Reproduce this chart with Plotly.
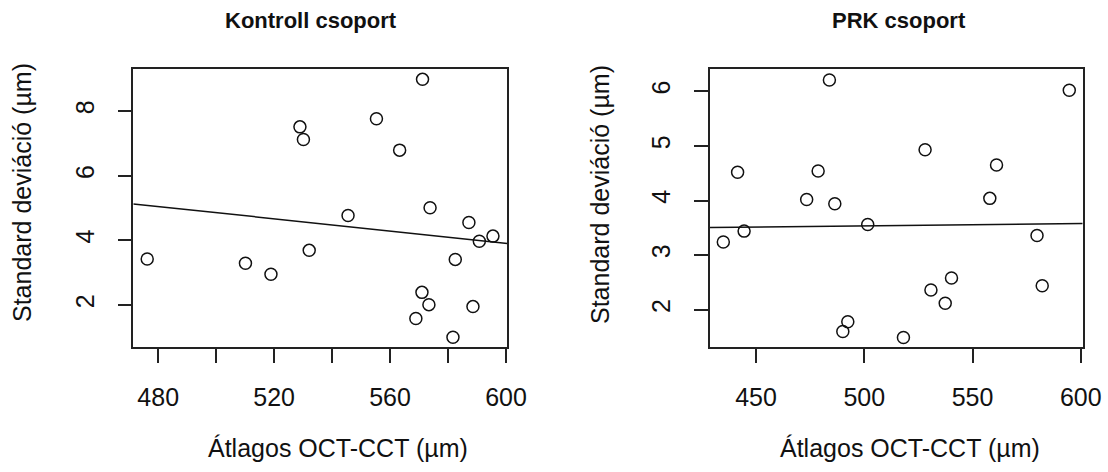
import numpy as np
import plotly.graph_objects as go

# Kontroll csoport
ctrl_x = [476.2, 510.1, 518.9, 528.9, 530.1, 532.1, 545.5, 555.3, 563.3, 571.2,
          573.8, 571.0, 573.4, 568.9, 581.7, 582.5, 587.2, 588.6, 590.8, 595.5]
ctrl_y = [3.42, 3.29, 2.95, 7.51, 7.12, 3.69, 4.77, 7.76, 6.79, 8.98,
          5.01, 2.39, 2.01, 1.58, 1.00, 3.41, 4.55, 1.95, 3.97, 4.13]

# PRK csoport
prk_x = [434.9, 441.5, 444.5, 473.4, 478.7, 483.9, 486.4, 490.1, 492.4, 501.6,
         518.1, 528.1, 530.8, 537.4, 540.3, 558.0, 561.1, 579.8, 582.2, 594.7]
prk_y = [3.24, 4.52, 3.44, 4.02, 4.54, 6.21, 3.94, 1.60, 1.78, 3.56,
         1.49, 4.93, 2.36, 2.12, 2.58, 4.04, 4.65, 3.36, 2.44, 6.02]

titles = ["Kontroll csoport", "PRK csoport"]
x_title = "Átlagos OCT-CCT (µm)"
y_title = "Standard deviáció (µm)"

ctrl_xticks = [480, 500, 520, 540, 560, 580, 600]
ctrl_xlabels = ["480", "", "520", "", "560", "", "600"]
ctrl_yticks = [2, 4, 6, 8]
prk_xticks = [450, 500, 550, 600]
prk_yticks = [2, 3, 4, 5, 6]

W, H = 1108, 472
FONT = "Liberation Sans, Arial, sans-serif"
INK = "#111111"

fig = go.Figure()

def add_panel(xs, ys, xaxis, yaxis, xr):
    fig.add_trace(go.Scatter(
        x=xs, y=ys, mode="markers", xaxis=xaxis, yaxis=yaxis,
        marker=dict(symbol="circle-open", size=12, color=INK, line=dict(width=1.5, color=INK)),
        showlegend=False, hoverinfo="x+y"))
    slope, inter = np.polyfit(xs, ys, 1)
    fig.add_trace(go.Scatter(
        x=[xr[0], xr[1]], y=[inter + slope * xr[0], inter + slope * xr[1]],
        mode="lines", xaxis=xaxis, yaxis=yaxis,
        line=dict(color=INK, width=1.5), showlegend=False, hoverinfo="skip"))

ctrl_xr = [471.4, 600.45]
prk_xr = [428.75, 600.9]
add_panel(ctrl_x, ctrl_y, "x", "y", ctrl_xr)
add_panel(prk_x, prk_y, "x2", "y2", prk_xr)

ydom = [(H - 347) / H, (H - 69) / H]
axis_common = dict(showgrid=False, zeroline=False, showline=True, mirror=True,
                   automargin=False,
                   linecolor="#222222", linewidth=1.5, ticks="outside", ticklen=14,
                   tickwidth=1.5, tickcolor="#222222",
                   tickfont=dict(family=FONT, size=25, color=INK))

fig.update_layout(
    template="none",
    width=W, height=H, autosize=False,
    margin=dict(l=0, r=0, t=0, b=0, pad=0),
    paper_bgcolor="white", plot_bgcolor="white",
    xaxis=dict(domain=[133.3 / W, 507.3 / W], range=ctrl_xr, tickvals=ctrl_xticks,
               ticktext=ctrl_xlabels, anchor="y", ticklabelstandoff=13, **axis_common),
    yaxis=dict(domain=ydom, range=[0.70, 9.30], tickvals=ctrl_yticks,
               tickangle=-90, anchor="x", ticklabelstandoff=14, **axis_common),
    xaxis2=dict(domain=[710 / W, 1082.7 / W], range=prk_xr, tickvals=prk_xticks,
                anchor="y2", ticklabelstandoff=13, **axis_common),
    yaxis2=dict(domain=ydom, range=[1.317, 6.41], tickvals=prk_yticks,
                tickangle=-90, anchor="x2", ticklabelstandoff=14, **axis_common),
)

ann = []
for txt, cx in zip(titles, [310.5, 898.7]):
    ann.append(dict(text="<b>" + txt + "</b>", x=cx / W, y=1 - 20 / H, xref="paper", yref="paper",
                    showarrow=False, xanchor="center", yanchor="middle",
                    font=dict(family=FONT, size=22, color=INK)))
for cx in [338, 910]:
    ann.append(dict(text=x_title, x=cx / W, y=1 - 448 / H, xref="paper", yref="paper",
                    showarrow=False, xanchor="center", yanchor="middle",
                    font=dict(family=FONT, size=25, color=INK)))
for cx, cy in [(22, 193), (600, 195)]:
    ann.append(dict(text=y_title, x=cx / W, y=1 - cy / H, xref="paper", yref="paper",
                    showarrow=False, xanchor="center", yanchor="middle", textangle=-90,
                    font=dict(family=FONT, size=25, color=INK)))
fig.update_layout(annotations=ann)

post = (
    "document.body.style.margin='0px';"
    "document.documentElement.style.overflow='hidden';"
    "document.body.style.overflow='hidden';"
)
fig.write_html("out.html", post_script=post,
               config={"responsive": False, "displayModeBar": False})
